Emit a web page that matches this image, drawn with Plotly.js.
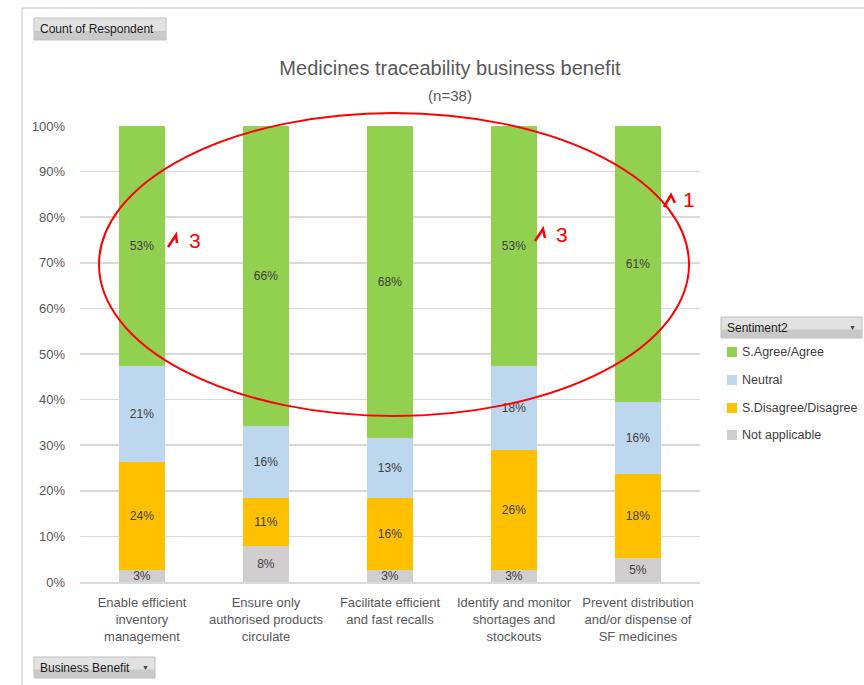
<!DOCTYPE html>
<html>
<head>
<meta charset="utf-8">
<script src="https://cdn.plot.ly/plotly-3.0.1.min.js"></script>
<style>html,body{margin:0;padding:0;background:#fff;}#chart{width:864px;height:685px;}</style>
</head>
<body>
<div id="chart"></div>
<script>
// ---- Data (counts of respondents, n = 38) ----
const categories = [
  'Enable efficient<br>inventory<br>management',
  'Ensure only<br>authorised products<br>circulate',
  'Facilitate efficient<br>and fast recalls',
  'Identify and monitor<br>shortages and<br>stockouts',
  'Prevent distribution<br>and/or dispense of<br>SF medicines'
];
const notApplicable = [1, 3, 1, 1, 2];
const disagree      = [9, 4, 6, 10, 7];
const neutral       = [8, 6, 5, 7, 6];
const agree         = [20, 25, 26, 20, 23];
const seriesNames   = ['Not applicable', 'S.Disagree/Disagree', 'Neutral', 'S.Agree/Agree'];
const seriesColors  = ['#D0CECE', '#FFC000', '#BDD7EE', '#92D050'];
const yTickVals     = [0, 10, 20, 30, 40, 50, 60, 70, 80, 90, 100];
const totalN = 38;

// ---- Layout helpers (pixel -> paper) ----
const W = 864, H = 685, ML = 80, MR = 164, MT = 126, MB = 103;
const PW = W - ML - MR, PH = H - MT - MB;
const px = x => (x - ML) / PW;
const py = y => (H - MB - y) / PH;
const FONT = 'Liberation Sans, Arial, sans-serif';

const seriesValues = [notApplicable, disagree, neutral, agree];
const traces = seriesValues.map((vals, i) => ({
  type: 'bar',
  name: seriesNames[i],
  x: categories,
  y: vals,
  width: 0.37,
  marker: {color: seriesColors[i]},
  text: vals.map(v => Math.round(v / totalN * 100) + '%'),
  textposition: 'inside',
  insidetextanchor: 'middle',
  constraintext: 'none',
  textfont: {family: FONT, size: 12, color: '#404040'},
  hoverinfo: 'skip',
  showlegend: false
}));

const shapes = [];
const annotations = [];

// chart border (left & top)
shapes.push({type: 'line', xref: 'paper', yref: 'paper', x0: px(22), x1: px(22), y0: py(8), y1: py(690), line: {color: '#D9D9D9', width: 1.5}});
shapes.push({type: 'line', xref: 'paper', yref: 'paper', x0: px(22), x1: px(870), y0: py(8), y1: py(8), line: {color: '#D9D9D9', width: 1.5}});

// pivot buttons
function button(x0, y0, x1, y1, label, arrow) {
  const mid = (y0 + y1) / 2;
  shapes.push({type: 'rect', xref: 'paper', yref: 'paper', x0: px(x0), x1: px(x1), y0: py(y1), y1: py(y0), fillcolor: '#C9C9C9', line: {width: 0}, layer: 'above'});
  shapes.push({type: 'rect', xref: 'paper', yref: 'paper', x0: px(x0), x1: px(x1), y0: py(mid + 2), y1: py(y0), fillcolor: '#E2E2E2', line: {width: 0}, layer: 'above'});
  shapes.push({type: 'rect', xref: 'paper', yref: 'paper', x0: px(x0), x1: px(x1), y0: py(y1), y1: py(y0), fillcolor: 'rgba(0,0,0,0)', line: {color: '#C0C0C0', width: 1}, layer: 'above'});
  annotations.push({xref: 'paper', yref: 'paper', x: px(x0 + 4), y: py(mid), xanchor: 'left', yanchor: 'middle', showarrow: false, text: label, font: {family: FONT, size: 12, color: '#1a1a1a'}});
  if (arrow) annotations.push({xref: 'paper', yref: 'paper', x: px(x1 - 10), y: py(mid), xanchor: 'center', yanchor: 'middle', showarrow: false, text: '▼', font: {family: FONT, size: 7, color: '#404040'}});
}
button(34, 18, 166, 40, 'Count of Respondent', false);
button(34, 657, 155, 678, 'Business Benefit', true);
button(721, 317, 862, 338, 'Sentiment2', true);

// manual legend (top-down order as in reference)
const legendY = [352, 380, 408, 435];
[3, 2, 1, 0].forEach((si, k) => {
  const cy = legendY[k];
  shapes.push({type: 'rect', xref: 'paper', yref: 'paper', x0: px(727), x1: px(737), y0: py(cy + 5), y1: py(cy - 5), fillcolor: seriesColors[si], line: {width: 0}});
  annotations.push({xref: 'paper', yref: 'paper', x: px(740), y: py(cy), xanchor: 'left', yanchor: 'middle', showarrow: false, text: seriesNames[si], font: {family: FONT, size: 12.5, color: '#404040'}});
});

// red hand-drawn ellipse and marks
shapes.push({type: 'circle', xref: 'paper', yref: 'paper', x0: px(99), x1: px(689), y0: py(416), y1: py(113), line: {color: '#FF0000', width: 2}, layer: 'above'});
function mark(pts) {
  const d = 'M ' + pts.map(p => px(p[0]) + ',' + py(p[1])).join(' L ');
  shapes.push({type: 'path', xref: 'paper', yref: 'paper', path: d, line: {color: '#FF0000', width: 2.5}, layer: 'above'});
}
mark([[168, 247], [176, 235], [177, 243]]);
mark([[535, 241], [543, 229], [545, 238]]);
mark([[664, 207], [671, 195], [675, 203]]);
[[195, 240, '3'], [562, 234, '3'], [689, 200, '1']].forEach(a => {
  annotations.push({xref: 'paper', yref: 'paper', x: px(a[0]), y: py(a[1]), xanchor: 'center', yanchor: 'middle', showarrow: false, text: a[2], font: {family: FONT, size: 21, color: '#FF0000'}});
});

const layout = {
  width: W, height: H,
  margin: {l: ML, r: MR, t: MT, b: MB, pad: 0},
  paper_bgcolor: '#FFFFFF', plot_bgcolor: '#FFFFFF',
  barmode: 'stack', barnorm: 'percent',
  showlegend: false,
  font: {family: FONT, color: '#595959'},
  title: {
    text: 'Medicines traceability business benefit<br><span style="font-size:15px">(n=38)</span>',
    font: {family: FONT, size: 20, color: '#595959'},
    xref: 'paper', x: px(450), xanchor: 'center',
    yref: 'container', y: 1 - 75 / H, yanchor: 'top'
  },
  xaxis: {
    type: 'category',
    tickfont: {family: FONT, size: 13, color: '#595959'},
    showgrid: false, showline: true, linecolor: '#D9D9D9', linewidth: 1.5,
    ticks: '', ticklabelstandoff: 8, fixedrange: true
  },
  yaxis: {
    range: [0, 100], tickvals: yTickVals, ticktext: yTickVals.map(v => v + '%'),
    tickfont: {family: FONT, size: 13, color: '#595959'},
    showgrid: true, gridcolor: '#D9D9D9', gridwidth: 1.5, zeroline: false,
    showline: false, ticks: '', ticklabelstandoff: 14, fixedrange: true
  },
  shapes: shapes,
  annotations: annotations
};

Plotly.newPlot('chart', traces, layout, {displayModeBar: false, staticPlot: true});
</script>
</body>
</html>
